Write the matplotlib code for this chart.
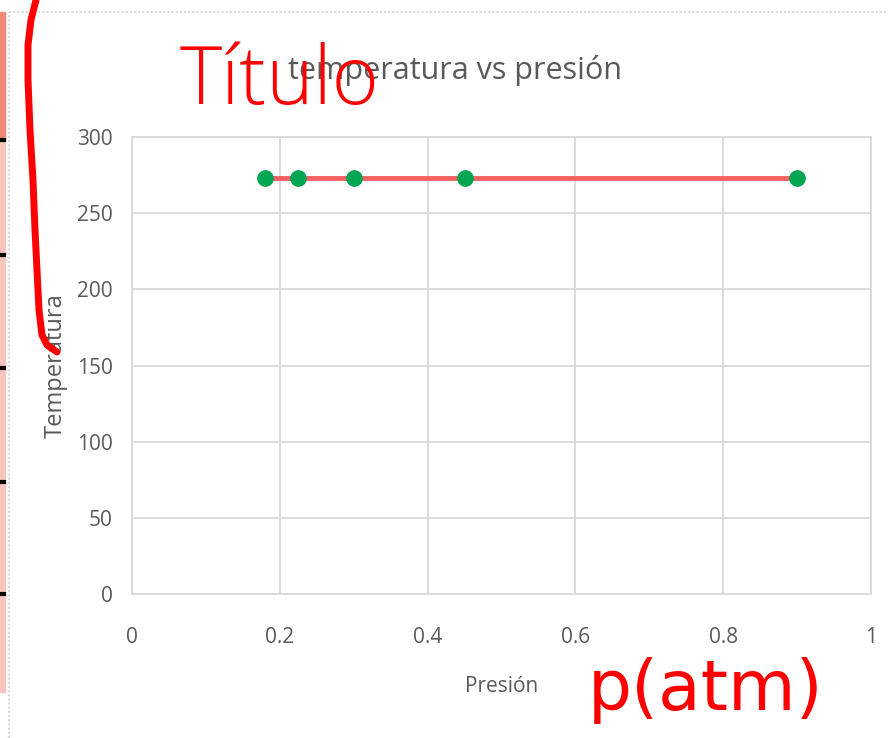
import numpy as np
import matplotlib.pyplot as plt
from matplotlib.patches import Rectangle
from matplotlib.lines import Line2D

# datos
presion = [0.18, 0.225, 0.3, 0.45, 0.9]
temperatura = [273, 273, 273, 273, 273]
x_ticks = [0, 0.2, 0.4, 0.6, 0.8, 1]
y_ticks = [0, 50, 100, 150, 200, 250, 300]

GRIS = '#595959'
REJILLA = '#d9d9d9'


def main():
    plt.rcParams['font.family'] = ['Open Sans', 'DejaVu Sans']
    fig = plt.figure(figsize=(8.88, 7.38), dpi=100)

    # franja rosa de la izquierda (captura de pantalla)
    fig.patches.append(Rectangle((0, 1 - 692 / 738), 5 / 888, (692 - 12) / 738,
                                 transform=fig.transFigure, color='#f9c4bc', zorder=0))
    fig.patches.append(Rectangle((0, 1 - 140 / 738), 5 / 888, 128 / 738,
                                 transform=fig.transFigure, color='#f08a78', zorder=0))
    for yy in [140, 255, 368, 482, 594]:
        fig.lines.append(Line2D([0, 4 / 888], [1 - yy / 738] * 2, transform=fig.transFigure,
                                color='black', lw=3))
    # borde del area del grafico
    fig.lines.append(Line2D([9 / 888, 9 / 888], [0, 1 - 12 / 738], transform=fig.transFigure,
                            color=REJILLA, lw=1.5, ls=(0, (1, 1))))
    fig.lines.append(Line2D([9 / 888, 1], [1 - 12 / 738] * 2, transform=fig.transFigure,
                            color=REJILLA, lw=1.5, ls=(0, (1, 1))))

    ax = fig.add_axes([132 / 888, 1 - 594 / 738, 739 / 888, 457 / 738])
    ax.plot(presion, temperatura, color='#f4605f', lw=3.5, zorder=3)
    ax.plot(presion, temperatura, 'o', color='#00a651', markersize=11, zorder=4)

    ax.set_xlim(0, 1)
    ax.set_ylim(0, 300)
    ax.set_xticks(x_ticks)
    ax.set_xticklabels(['0', '0.2', '0.4', '0.6', '0.8', '1'])
    ax.set_yticks(y_ticks)
    ax.grid(True, color=REJILLA, lw=1.3)
    ax.set_axisbelow(True)
    for s in ax.spines.values():
        s.set_color(REJILLA)
        s.set_linewidth(1.3)
    ax.tick_params(length=0, colors=GRIS, labelsize=15, pad=14)
    ax.tick_params(axis='x', pad=24)

    fig.text(455 / 888, 1 - 70 / 738, 'temperatura vs presión', color=GRIS, fontsize=22,
             ha='center', va='center', zorder=5)
    ax.set_xlabel('Presión', color=GRIS, fontsize=15, labelpad=20)
    ax.set_ylabel('Temperatura', color=GRIS, fontsize=17)
    ax.yaxis.set_label_coords(-64 / 739, 0.5)

    # anotaciones a mano en rojo
    fig.text(180 / 888, 1 - 104 / 738, 'Título', color='red', fontsize=58,
             fontweight='light', ha='left', va='baseline', zorder=10)
    fig.text(588 / 888, 1 - 710 / 738, 'p(atm)', color='red', fontsize=50,
             family=['DejaVu Sans'], ha='left', va='baseline', zorder=10)
    bx = np.array([36, 31, 28, 28, 30, 33, 35, 37, 39, 42, 47, 57]) / 888
    by = 1 - np.array([0, 20, 45, 80, 130, 180, 230, 270, 310, 335, 345, 352]) / 738
    fig.lines.append(Line2D(bx, by, transform=fig.transFigure, color='red', lw=5,
                            solid_capstyle='round', solid_joinstyle='round', zorder=10))

    fig.savefig('out.png', dpi=100)


main()
